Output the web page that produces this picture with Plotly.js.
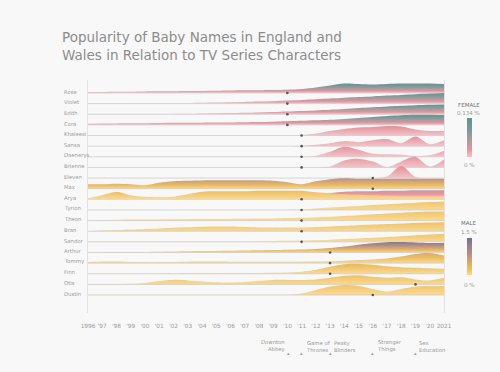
<!DOCTYPE html>
<html><head><meta charset="utf-8">
<script src="https://cdn.plot.ly/plotly-3.0.1.min.js"></script>
<style>html,body{margin:0;padding:0;background:#f8f8f8}</style>
</head><body>
<div id="chart" style="width:500px;height:372px"></div>
<script>
// ---------- data ----------
const years = [1996,1997,1998,1999,2000,2001,2002,2003,2004,2005,2006,2007,2008,2009,2010,2011,2012,2013,2014,2015,2016,2017,2018,2019,2020,2021];
const tickLabels = ['1996',"'97","'98","'99","'00","'01","'02","'03","'04","'05","'06","'07","'08","'09","'10","'11","'12","'13","'14","'15","'16","'17","'18","'19","'20",'2021'];
const names = ['Rose','Violet','Edith','Cora','Khaleesi','Sansa','Daenerys','Brienne','Eleven','Max','Arya','Tyrion','Theon','Bran','Sandor','Arthur','Tommy','Finn','Otis','Dustin'];
const showStart = [2010,2010,2010,2010,2011,2011,2011,2011,2016,2016,2011,2011,2011,2011,2011,2013,2013,2013,2019,2016];
const shows = ['Downton<br>Abbey','Game of<br>Thrones','Peaky<br>Blinders','Stranger<br>Things','Sex<br>Education'];
const showYears = [2010,2011,2013,2016,2019];

// relative popularity index per year (1996-2021)
const rose     = [1,1,1.2,1.3,1.5,1.6,1.8,2,2,2.2,2.4,2.6,2.8,3,3.3,4,5.5,7.5,9.5,9,8.5,9,9.5,9.5,9.5,9];
const violet   = [0.4,0.4,0.4,0.4,0.5,0.5,0.5,0.6,0.8,1,1.3,1.6,2,2.4,3,3.6,4.3,5,5.8,6.5,7.2,8,8.6,9.3,10,10.5];
const edith    = [0.3,0.3,0.3,0.3,0.3,0.3,0.3,0.4,0.8,1,1.2,1.5,1.8,2.2,2.7,3.2,3.8,4.5,5.3,6.2,7,7.8,8.4,9,9.4,9.6];
const cora     = [1.2,1.3,1.4,1.5,1.6,1.8,2,2.1,2.2,2.3,2.4,2.6,2.8,3.2,3.6,4,4.5,5,5.8,6.8,7.8,8.8,9.6,10,10,9.8];
const khaleesi = [0,0,0,0,0,0,0,0,0,0,0,0,0,0,0,0.5,2,4.5,6.5,8,8.5,9.5,9,6,4.5,4.5];
const sansa    = [0,0,0,0,0,0,0,0,0,0,0,0,0,0,0,0.5,1.5,3,5,4,6,7,3,9.5,2,6];
const daenerys = [0,0,0,0,0,0,0,0,0,0,0,0,0,0,0,0,1,5,10,7,3,2.5,2,0.8,1.5,6];
const brienne  = [0,0,0,0,0,0,0,0,0,0,0,0,0,0,0,0,0,1,7,8.5,6,0.5,6,10.5,1,8];
const eleven   = [0,0,0,0,0,0,0,0,0,0,0,0,0,0,0,0,0,0,0,0,0,1.5,12,1,0,0];
const max      = [4.5,4.5,5,4.5,3.5,6,7.5,8,8.2,8.3,8.5,8.5,8.5,8,6.5,4.5,7.5,9.5,10.5,10,10,10,10,10,10,10];
const aryaGirls= [0,0,0,0,0,0,0,0,0,0,0,0,0,0,0,0,3,6,7.5,8,8,8.5,8.5,9,9,9];
const aryaBoys = [1,4,7.5,4,2.5,2,2.5,5,7.5,8,8,8,8.5,8.5,8.5,8.5,7,6,5,4.5,4,3.5,3,3,3,3];
const tyrion   = [0,0,0,0,0,0,0,0,0,0,0,0,0,0,0,0.5,1.5,2.5,3.3,4,5,5.8,6.5,7.3,8,8.5];
const theon    = [0.3,0.5,0.8,1,1,1.2,1.3,1.4,1.5,1.6,1.7,1.8,2,2.2,2.5,2.8,3.2,3.7,4.5,5.3,6.2,7,7.8,8.5,9,9];
const bran     = [0.3,0.8,1.2,1.7,2.2,2.8,3.5,4,4.5,4.8,4.6,4.2,3.8,3.6,3.6,3.8,4.3,4.8,5.4,6,6.6,7.2,7.8,8.3,8.7,9];
const sandor   = [0.3,0.3,0.3,0.3,0.3,0.3,0.3,0.3,0.3,0.3,0.3,0.3,0.6,0.8,1,1.3,1.7,2.2,2.8,3.4,4,4.8,5.6,6.5,7.3,8];
const arthur   = [0.3,0.3,0.4,0.5,0.6,0.8,1,1.2,1.4,1.6,1.8,2,2.2,2.4,2.7,3,3.5,4.5,6,7.8,9.3,10.3,10.5,10,9.5,9.5];
const tommy    = [1,1.5,1.5,1.2,1,1,1.2,1.4,1.5,1.5,1.4,1.3,1.3,1.3,1.3,1.4,1.5,1.8,2.3,3,3.5,4.5,6.5,9,10,7.5];
const finn     = [0.5,0.5,0.5,0.5,0.5,0.6,0.6,0.6,0.7,0.7,0.7,0.8,0.8,1,1.3,2,4,7,9.5,10,9,7.5,6.5,6,5.5,5];
const otis     = [0.3,0.3,0.4,0.6,1.5,3.5,4.5,4,3,2.2,2,2.5,3.5,4.5,4.5,4.5,5,6.5,8.5,9,7.5,6.5,7,5,4,6.5];
const dustin   = [0.2,0.2,0.2,0.2,0.2,0.2,0.2,0.2,0.2,0.2,0.2,0.2,0.2,0.3,0.3,1.5,5,8.5,10,9,6,3.5,6,8.5,9,9];

// peak share of births (%) per series, sets the colour reached at the top of each ridge
const femaleMax = 0.134, maleMax = 1.5;
const series = [
  {row:0,g:'F',v:rose,pct:0.13},{row:1,g:'F',v:violet,pct:0.125},{row:2,g:'F',v:edith,pct:0.12},
  {row:3,g:'F',v:cora,pct:0.125},{row:4,g:'F',v:khaleesi,pct:0.03},{row:5,g:'F',v:sansa,pct:0.027},
  {row:6,g:'F',v:daenerys,pct:0.027},{row:7,g:'F',v:brienne,pct:0.025},{row:8,g:'F',v:eleven,pct:0.03},
  {row:9,g:'M',v:max,pct:0.85},{row:10,g:'F',v:aryaGirls,pct:0.04},{row:10,g:'M',v:aryaBoys,pct:0.25},
  {row:11,g:'M',v:tyrion,pct:0.18},{row:12,g:'M',v:theon,pct:0.18},{row:13,g:'M',v:bran,pct:0.22},
  {row:14,g:'M',v:sandor,pct:0.18},{row:15,g:'M',v:arthur,pct:1.35},{row:16,g:'M',v:tommy,pct:0.5},
  {row:17,g:'M',v:finn,pct:0.3},{row:18,g:'M',v:otis,pct:0.22},{row:19,g:'M',v:dustin,pct:0.18}
];

// ---------- styling ----------
const femaleScale = [[0,'#f4c4ca'],[0.2,'#e4939c'],[0.42,'#b19a9d'],[0.72,'#75999a'],[1,'#5f948f']];
const maleScale   = [[0,'#f8da96'],[0.15,'#f0bf62'],[0.5,'#c19780'],[1,'#756e93']];
const S = 1/10.6;       // index units -> row spacing
const FONT = 'DejaVu Sans';
const GREY = '#9a9a9a';

function hexToRgb(h){h=h.replace('#','');return [0,2,4].map(i=>parseInt(h.substr(i,2),16));}
function sample(scale,t){
  t=Math.max(0,Math.min(1,t));
  for(let k=1;k<scale.length;k++){
    if(t<=scale[k][0]){
      const a=scale[k-1],b=scale[k];
      const f=(t-a[0])/((b[0]-a[0])||1);
      const ca=hexToRgb(a[1]),cb=hexToRgb(b[1]);
      return 'rgb('+ca.map((c,j)=>Math.round(c+(cb[j]-c)*f)).join(',')+')';
    }
  }
  return scale[scale.length-1][1];
}
function subScale(scale,level){
  const n=8,out=[];
  for(let k=0;k<=n;k++) out.push([k/n,sample(scale,level*k/n)]);
  return out;
}

const N = names.length;
const baseOf = i => N-1-i;
const traces = [];
names.forEach((nm,i)=>{
  const b = baseOf(i);
  series.filter(s=>s.row===i).forEach((s,k)=>{
    traces.push({x:years,y:years.map(()=>b),mode:'lines',
      line:{color:k===0?'#cdcdcd':'rgba(0,0,0,0)',width:k===0?0.8:0},
      hoverinfo:'skip',showlegend:false});
    const maxV = Math.max(...s.v);
    const scale = s.g==='F'?femaleScale:maleScale;
    const level = s.pct/(s.g==='F'?femaleMax:maleMax);
    traces.push({x:years,y:s.v.map(v=>b+v*S),mode:'lines',
      line:{width:0,shape:'spline',smoothing:0.9},
      fill:'tonexty',fillcolor:sample(scale,level/2),
      fillgradient:{type:'vertical',colorscale:subScale(scale,level),start:b,stop:b+maxV*S},
      hoverinfo:'skip',showlegend:false});
  });
});
// show start markers
traces.push({x:showStart,y:names.map((n,i)=>baseOf(i)),mode:'markers',
  marker:{size:2.6,color:'#555',symbol:'circle'},hoverinfo:'skip',showlegend:false,cliponaxis:false});
// colour bars
function cbTrace(scale,yc,len){
  return {x:[1996],y:[-50],mode:'markers',hoverinfo:'skip',showlegend:false,
    marker:{color:[0],cmin:0,cmax:1,colorscale:scale,showscale:true,size:1,
      colorbar:{x:1.0646,xanchor:'left',y:yc,yanchor:'middle',len:len,lenmode:'pixels',
        thickness:5,thicknessmode:'pixels',xpad:0,ypad:0,outlinewidth:0,
        showticklabels:false,ticks:''}}};
}
traces.push(cbTrace(femaleScale,0.7532,39));
traces.push(cbTrace(maleScale,0.2425,37));

const annotations = [];
names.forEach((nm,i)=>{
  annotations.push({xref:'paper',x:-0.073,xanchor:'left',yref:'y',y:baseOf(i)+0.12,yanchor:'middle',
    text:nm,showarrow:false,font:{family:FONT,size:5.3,color:GREY}});
});
const showShift = [-1,3,3,3,2];
shows.forEach((t,k)=>{
  annotations.push({xref:'x',x:showYears[k],xanchor:k===0?'right':'left',xshift:showShift[k],
    yref:'paper',y:-0.142,yanchor:'middle',align:k===0?'right':'left',text:t,showarrow:false,
    borderpad:0,font:{family:FONT,size:5.3,color:GREY}});
  annotations.push({xref:'x',x:showYears[k],xanchor:'center',xshift:k===0?1:0,
    yref:'paper',y:-0.17,yanchor:'middle',text:'▴',showarrow:false,
    font:{family:FONT,size:5,color:GREY}});
});
const cbText = [['FEMALE',0.8927,'#6f6f6f'],['0.134 %',0.8584,GREY],['0 %',0.635,GREY],
                ['MALE',0.386,'#6f6f6f'],['1.5 %',0.3476,GREY],['0 %',0.1202,GREY]];
cbText.forEach(c=>annotations.push({xref:'paper',x:1.0702,xanchor:'center',yref:'paper',y:c[1],yanchor:'middle',
  text:c[0],showarrow:false,font:{family:FONT,size:5.5,color:c[2]}}));

const layout = {
  width:500,height:372,
  margin:{l:88,r:56,t:80,b:59},
  paper_bgcolor:'#f8f8f8',plot_bgcolor:'#f8f8f8',
  font:{family:FONT,color:GREY},
  title:{text:'Popularity of Baby Names in England and<br>Wales in Relation to TV Series Characters',
    x:0.124,xref:'container',xanchor:'left',y:0.887,yref:'container',yanchor:'top',
    font:{family:FONT,size:13.5,color:'#8c8c8c'}},
  xaxis:{range:[1996,2021],tickvals:years,ticktext:tickLabels,tickangle:0,showgrid:false,zeroline:false,
    ticks:'outside',ticklen:7,tickcolor:'rgba(0,0,0,0)',tickfont:{family:FONT,size:5.8,color:GREY},
    showline:false,fixedrange:true},
  yaxis:{range:[-1.69,20.22],showticklabels:false,showgrid:false,zeroline:false,
    showline:true,mirror:true,linecolor:'#e2e2e2',linewidth:1,fixedrange:true},
  annotations:annotations,
  showlegend:false
};
Plotly.newPlot('chart',traces,layout,{staticPlot:true,displayModeBar:false});
</script>
</body></html>
